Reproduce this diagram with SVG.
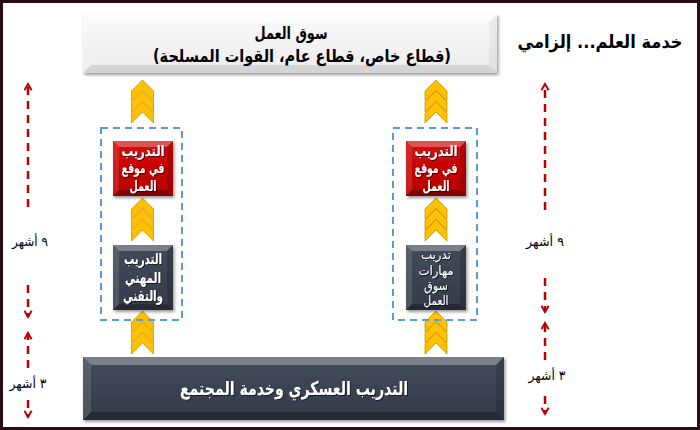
<svg xmlns="http://www.w3.org/2000/svg" width="700" height="430" viewBox="0 0 700 430">
<style>
.ar{font-family:"DejaVu Sans","Noto Sans",sans-serif;direction:rtl;unicode-bidi:embed;text-anchor:middle}
.b{font-weight:bold}
.w{fill:#ffffff}
.k{fill:#000000}
.bt{fill:#ffffff;fill-opacity:0.3}
.bl{fill:#ffffff;fill-opacity:0.12}
.br{fill:#000000;fill-opacity:0.15}
.bb{fill:#000000;fill-opacity:0.3}
.grp{fill:none;stroke:#5b9bd5;stroke-width:2;stroke-dasharray:7 5}
.dur{fill:none;stroke:#c00000;stroke-width:2.5;stroke-dasharray:8 6;marker-end:url(#ah)}
</style>
<defs>
<filter id="sh" x="-10%" y="-10%" width="130%" height="130%">
<feDropShadow dx="1.5" dy="2" stdDeviation="1.5" flood-color="#000" flood-opacity="0.4"/>
</filter>
<filter id="ts" x="-10%" y="-10%" width="130%" height="130%">
<feDropShadow dx="1" dy="1" stdDeviation="0.6" flood-color="#000" flood-opacity="0.6"/>
</filter>
<linearGradient id="gTop" x1="0" y1="0" x2="0" y2="1">
<stop offset="0" stop-color="#fafafa"/><stop offset="1" stop-color="#ececec"/>
</linearGradient>
<linearGradient id="gDark" x1="0" y1="0" x2="0" y2="1">
<stop offset="0" stop-color="#414a5a"/><stop offset="1" stop-color="#343c4a"/>
</linearGradient>
<linearGradient id="gRed" x1="0" y1="0" x2="0" y2="1">
<stop offset="0" stop-color="#d20a0a"/><stop offset="1" stop-color="#b80000"/>
</linearGradient>
<marker id="ah" viewBox="0 0 10 10" refX="8" refY="5" markerWidth="9" markerHeight="9" markerUnits="userSpaceOnUse" orient="auto">
<path d="M1,1 L8,5 L1,9" fill="none" stroke="#c00000" stroke-width="2.2"/>
</marker>
<g id="chev3">
<polygon points="0,0 11,11 11,21 0,10 -11,21 -11,11" fill="#ffc000" stroke="#c99400" stroke-width="0.8"/>
<polygon points="0,11 11,22 11,32 0,21 -11,32 -11,22" fill="#ffc000" stroke="#c99400" stroke-width="0.8"/>
<polygon points="0,22 11,33 11,43 0,32 -11,43 -11,33" fill="#ffc000" stroke="#c99400" stroke-width="0.8"/>
</g>
</defs>

<rect x="1.5" y="1.5" width="697" height="427" fill="#ffffff" stroke="#2b0b16" stroke-width="3"/>

<g id="title">
<text class="ar b k" x="600" y="48" font-size="18" textLength="165" lengthAdjust="spacingAndGlyphs">خدمة العلم... إلزامي</text>
</g>

<g id="connectors">
<use href="#chev3" x="142.5" y="80"/>
<use href="#chev3" x="142.5" y="198"/>
<use href="#chev3" x="142.5" y="311"/>
<use href="#chev3" x="436" y="80"/>
<use href="#chev3" x="436" y="198"/>
<use href="#chev3" x="436" y="311"/>
<line class="dur" x1="28" y1="207" x2="28" y2="84"/>
<line class="dur" x1="28" y1="285" x2="28" y2="317"/>
<line class="dur" x1="28" y1="368" x2="28" y2="333"/>
<line class="dur" x1="28" y1="400" x2="28" y2="417"/>
<line class="dur" x1="545" y1="210" x2="545" y2="84"/>
<line class="dur" x1="545" y1="278" x2="545" y2="312"/>
<line class="dur" x1="545" y1="360" x2="545" y2="323"/>
<line class="dur" x1="545" y1="396" x2="545" y2="414"/>
</g>

<g id="labels">
<text class="ar k" x="30" y="246" font-size="13" textLength="36" lengthAdjust="spacingAndGlyphs">٩ أشهر</text>
<text class="ar k" x="28" y="388" font-size="13" textLength="37" lengthAdjust="spacingAndGlyphs">٣ أشهر</text>
<text class="ar k" x="545" y="246" font-size="13" textLength="38" lengthAdjust="spacingAndGlyphs">٩ أشهر</text>
<text class="ar k" x="547" y="380" font-size="13" textLength="37" lengthAdjust="spacingAndGlyphs">٣ أشهر</text>
</g>

<g id="market">
<g filter="url(#sh)">
<rect x="83" y="14" width="414" height="59" fill="url(#gTop)"/>
<polygon class="bt" points="83,14 497,14 489,22 91,22"/>
<polygon class="bl" points="83,14 91,22 91,65 83,73"/>
<polygon fill="#000" fill-opacity="0.05" points="497,14 497,73 489,65 489,22"/>
<polygon fill="#000" fill-opacity="0.1" points="83,73 91,65 489,65 497,73"/>
</g>
<text class="ar b k" x="291" y="39" font-size="17" textLength="73" lengthAdjust="spacingAndGlyphs">سوق العمل</text>
<text class="ar b k" x="302" y="62" font-size="17" textLength="298" lengthAdjust="spacingAndGlyphs">(قطاع خاص، قطاع عام، القوات المسلحة)</text>
</g>

<rect class="grp" x="101" y="128" width="81" height="192"/>
<rect class="grp" x="393" y="128" width="84" height="192"/>

<g id="ojt-left">
<g filter="url(#sh)">
<rect x="113" y="141" width="60" height="55" fill="url(#gRed)"/>
<polygon class="bt" points="113,141 173,141 167,147 119,147"/>
<polygon class="bl" points="113,141 119,147 119,190 113,196"/>
<polygon class="br" points="173,141 173,196 167,190 167,147"/>
<polygon class="bb" points="113,196 119,190 167,190 173,196"/>
</g>
<g filter="url(#ts)">
<text class="ar b w" x="143" y="156" font-size="14.5" textLength="43" lengthAdjust="spacingAndGlyphs">التدريب</text>
<text class="ar b w" x="143" y="173" font-size="14.5" textLength="43" lengthAdjust="spacingAndGlyphs">في موقع</text>
<text class="ar b w" x="143" y="191" font-size="14.5" textLength="27" lengthAdjust="spacingAndGlyphs">العمل</text>
</g>
</g>

<g id="ojt-right">
<g filter="url(#sh)">
<rect x="406" y="141" width="60" height="55" fill="url(#gRed)"/>
<polygon class="bt" points="406,141 466,141 460,147 412,147"/>
<polygon class="bl" points="406,141 412,147 412,190 406,196"/>
<polygon class="br" points="466,141 466,196 460,190 460,147"/>
<polygon class="bb" points="406,196 412,190 460,190 466,196"/>
</g>
<g filter="url(#ts)">
<text class="ar b w" x="436" y="156" font-size="14.5" textLength="43" lengthAdjust="spacingAndGlyphs">التدريب</text>
<text class="ar b w" x="436" y="173" font-size="14.5" textLength="43" lengthAdjust="spacingAndGlyphs">في موقع</text>
<text class="ar b w" x="436" y="191" font-size="14.5" textLength="27" lengthAdjust="spacingAndGlyphs">العمل</text>
</g>
</g>

<g id="vocational">
<g filter="url(#sh)">
<rect x="113" y="245" width="60" height="65" fill="url(#gDark)"/>
<polygon class="bt" points="113,245 173,245 167,251 119,251"/>
<polygon class="bl" points="113,245 119,251 119,304 113,310"/>
<polygon class="br" points="173,245 173,310 167,304 167,251"/>
<polygon class="bb" points="113,310 119,304 167,304 173,310"/>
</g>
<g filter="url(#ts)">
<text class="ar b w" x="143" y="264" font-size="15" textLength="38" lengthAdjust="spacingAndGlyphs">التدريب</text>
<text class="ar b w" x="143" y="283" font-size="15" textLength="36" lengthAdjust="spacingAndGlyphs">المهني</text>
<text class="ar b w" x="143" y="301" font-size="15" textLength="40" lengthAdjust="spacingAndGlyphs">والتقني</text>
</g>
</g>

<g id="skills">
<g filter="url(#sh)">
<rect x="406" y="245" width="60" height="65" fill="url(#gDark)"/>
<polygon class="bt" points="406,245 466,245 460,251 412,251"/>
<polygon class="bl" points="406,245 412,251 412,304 406,310"/>
<polygon class="br" points="466,245 466,310 460,304 460,251"/>
<polygon class="bb" points="406,310 412,304 460,304 466,310"/>
</g>
<g filter="url(#ts)">
<text class="ar w" x="436" y="259" font-size="13" textLength="30" lengthAdjust="spacingAndGlyphs">تدريب</text>
<text class="ar w" x="436" y="275" font-size="13" textLength="35" lengthAdjust="spacingAndGlyphs">مهارات</text>
<text class="ar w" x="436" y="290" font-size="13" textLength="24" lengthAdjust="spacingAndGlyphs">سوق</text>
<text class="ar w" x="436" y="305" font-size="13" textLength="25" lengthAdjust="spacingAndGlyphs">العمل</text>
</g>
</g>

<g id="military">
<g filter="url(#sh)">
<rect x="83" y="357" width="421" height="63" fill="url(#gDark)"/>
<polygon class="bt" points="83,357 504,357 496,365 91,365"/>
<polygon class="bl" points="83,357 91,365 91,412 83,420"/>
<polygon class="br" points="504,357 504,420 496,412 496,365"/>
<polygon class="bb" points="83,420 91,412 496,412 504,420"/>
</g>
<text class="ar b w" x="294" y="395" font-size="19" textLength="228" lengthAdjust="spacingAndGlyphs" filter="url(#ts)">التدريب العسكري وخدمة المجتمع</text>
</g>
</svg>
